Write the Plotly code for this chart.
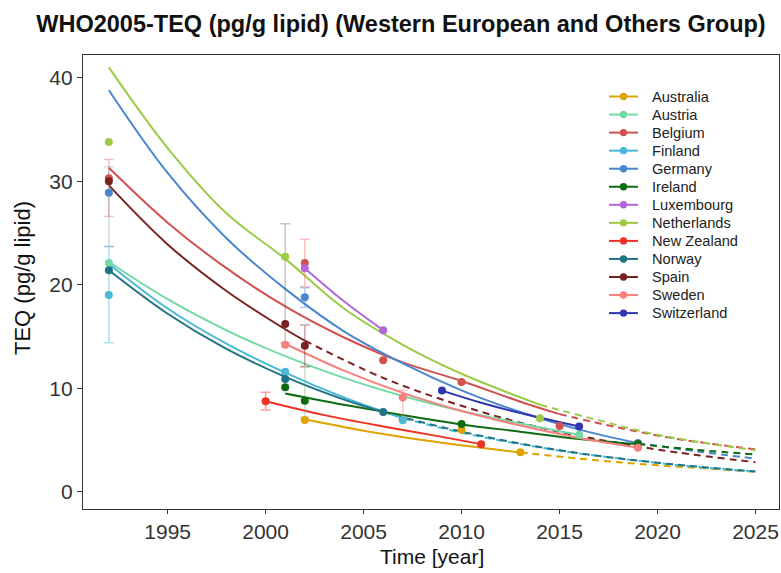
import plotly.graph_objects as go

COUNTRIES = ["Australia", "Austria", "Belgium", "Finland", "Germany", "Ireland",
             "Luxembourg", "Netherlands", "New Zealand", "Norway", "Spain",
             "Sweden", "Switzerland"]
COLORS = ["#E0A200", "#72D9A6", "#D0514F", "#4CB8D6", "#4A86CF", "#0E6B12",
          "#B266D9", "#9BCB48", "#EE3324", "#1F7385", "#7A2222", "#F5807C",
          "#2F36AE"]

X_TICKS = [1995, 2000, 2005, 2010, 2015, 2020, 2025]
Y_TICKS = [0, 10, 20, 30, 40]

# ---- measured points (year, TEQ) ----
AUS_PT_X = [2002, 2010, 2013]
AUS_PT_Y = [6.93, 6.0, 3.81]
AUT_PT_X = [1992, 2016]
AUT_PT_Y = [22.1, 5.5]
BEL_PT_X = [1992, 2002, 2006, 2010, 2015]
BEL_PT_Y = [30.3, 22.1, 12.7, 10.6, 6.35]
FIN_PT_X = [1992, 2001, 2007]
FIN_PT_Y = [19.0, 11.6, 6.9]
DEU_PT_X = [1992, 2002, 2019]
DEU_PT_Y = [28.9, 18.8, 4.7]
IRL_PT_X = [2001, 2002, 2010, 2019]
IRL_PT_Y = [10.1, 8.8, 6.55, 4.6]
LUX_PT_X = [2002, 2006]
LUX_PT_Y = [21.6, 15.6]
NLD_PT_X = [1992, 2001, 2014]
NLD_PT_Y = [33.8, 22.7, 7.1]
NZL_PT_X = [2000, 2011]
NZL_PT_Y = [8.74, 4.58]
NOR_PT_X = [1992, 2001, 2006]
NOR_PT_Y = [21.4, 10.9, 7.7]
ESP_PT_X = [1992, 2001, 2002]
ESP_PT_Y = [30.0, 16.2, 14.1]
SWE_PT_X = [2001, 2007, 2019]
SWE_PT_Y = [14.2, 9.1, 4.26]
CHE_PT_X = [2009, 2016]
CHE_PT_Y = [9.77, 6.3]

# ---- fitted trend (solid part) ----
AUS_FIT_X = [2002, 2005, 2008, 2011, 2013]
AUS_FIT_Y = [7.0, 5.9, 5.0, 4.25, 3.8]
AUT_FIT_X = [1992, 1995, 1998, 2001, 2004, 2007, 2010, 2013, 2016]
AUT_FIT_Y = [22.2, 18.6, 15.6, 13.1, 11.0, 9.25, 7.8, 6.6, 5.5]
BEL_FIT_X = [1992, 1995, 1998, 2001, 2004, 2007, 2010, 2013, 2015]
BEL_FIT_Y = [31.3, 26.0, 21.6, 17.9, 14.9, 12.5, 10.7, 8.7, 7.5]
FIN_FIT_X = [1992, 1995, 1998, 2001, 2004, 2007]
FIN_FIT_Y = [22.0, 17.7, 14.3, 11.5, 9.1, 7.1]
DEU_FIT_X = [1992, 1995, 1998, 2001, 2004, 2007, 2010, 2013, 2016, 2019]
DEU_FIT_Y = [38.8, 30.8, 24.5, 19.6, 15.5, 12.4, 9.8, 7.7, 6.0, 4.7]
IRL_FIT_X = [2001, 2004, 2007, 2010, 2013, 2016, 2019]
IRL_FIT_Y = [9.5, 8.4, 7.4, 6.5, 5.8, 5.1, 4.6]
LUX_FIT_X = [2002, 2004, 2006]
LUX_FIT_Y = [21.6, 18.4, 15.6]
NLD_FIT_X = [1992, 1995, 1998, 2001, 2004, 2007, 2010, 2014]
NLD_FIT_Y = [41.0, 33.2, 26.9, 22.5, 17.7, 14.2, 11.4, 8.4]
NZL_FIT_X = [2000, 2003, 2006, 2009, 2011]
NZL_FIT_Y = [8.74, 7.4, 6.3, 5.3, 4.6]
NOR_FIT_X = [1992, 1995, 1998, 2001, 2004, 2006]
NOR_FIT_Y = [21.4, 17.2, 13.8, 11.1, 8.9, 7.7]
ESP_FIT_X = [1992, 1995, 1998, 2001, 2002]
ESP_FIT_Y = [29.6, 23.9, 19.4, 15.7, 14.6]
SWE_FIT_X = [2001, 2004, 2007, 2010, 2013, 2016, 2019]
SWE_FIT_Y = [14.3, 11.7, 9.55, 7.8, 6.4, 5.2, 4.26]
CHE_FIT_X = [2009, 2011, 2013, 2016]
CHE_FIT_Y = [9.77, 8.6, 7.6, 6.3]

# ---- projected trend to 2025 (dashed part) ----
AUS_PRED_X = [2013, 2016, 2019, 2022, 2025]
AUS_PRED_Y = [3.8, 3.2, 2.7, 2.3, 1.93]
BEL_PRED_X = [2015, 2018, 2021, 2025]
BEL_PRED_Y = [7.5, 6.2, 5.1, 4.1]
FIN_PRED_X = [2007, 2010, 2013, 2016, 2019, 2022, 2025]
FIN_PRED_Y = [7.1, 5.7, 4.6, 3.7, 3.0, 2.4, 1.95]
DEU_PRED_X = [2019, 2022, 2025]
DEU_PRED_Y = [4.7, 3.9, 3.2]
IRL_PRED_X = [2019, 2022, 2025]
IRL_PRED_Y = [4.6, 4.05, 3.6]
NLD_PRED_X = [2014, 2017, 2020, 2025]
NLD_PRED_Y = [8.4, 6.9, 5.5, 4.0]
NOR_PRED_X = [2006, 2010, 2015, 2020, 2025]
NOR_PRED_Y = [7.7, 5.8, 4.0, 2.8, 1.95]
ESP_PRED_X = [2002, 2006, 2010, 2014, 2018, 2021, 2025]
ESP_PRED_Y = [14.6, 11.0, 8.3, 6.2, 4.7, 3.8, 2.85]

# ---- error bars (year, centre, upper, lower) ----
ERR_X = [1992, 1992, 1992, 2001, 2002, 2002, 2002, 2002, 2000, 2007]
ERR_C = [19.0, 30.0, 28.9, 16.2, 22.1, 18.8, 14.1, 8.8, 8.74, 9.1]
ERR_HI = [23.7, 32.1, 31.4, 25.9, 24.4, 19.7, 16.1, 12.0, 9.6, 9.8]
ERR_LO = [14.4, 26.6, 23.7, 14.4, 19.8, 17.8, 12.1, 7.2, 7.9, 7.0]
ERR_COL = ["rgba(76,184,214,0.45)", "rgba(208,81,79,0.35)",
           "rgba(120,150,160,0.35)", "rgba(123,80,60,0.35)",
           "rgba(245,128,124,0.5)", "rgba(74,134,207,0.4)",
           "rgba(122,34,34,0.4)", "rgba(80,160,80,0.3)",
           "rgba(238,51,36,0.45)", "rgba(245,128,124,0.45)"]

POINTS = [(AUS_PT_X, AUS_PT_Y), (AUT_PT_X, AUT_PT_Y), (BEL_PT_X, BEL_PT_Y),
          (FIN_PT_X, FIN_PT_Y), (DEU_PT_X, DEU_PT_Y), (IRL_PT_X, IRL_PT_Y),
          (LUX_PT_X, LUX_PT_Y), (NLD_PT_X, NLD_PT_Y), (NZL_PT_X, NZL_PT_Y),
          (NOR_PT_X, NOR_PT_Y), (ESP_PT_X, ESP_PT_Y), (SWE_PT_X, SWE_PT_Y),
          (CHE_PT_X, CHE_PT_Y)]
FITS = [(AUS_FIT_X, AUS_FIT_Y), (AUT_FIT_X, AUT_FIT_Y), (BEL_FIT_X, BEL_FIT_Y),
        (FIN_FIT_X, FIN_FIT_Y), (DEU_FIT_X, DEU_FIT_Y), (IRL_FIT_X, IRL_FIT_Y),
        (LUX_FIT_X, LUX_FIT_Y), (NLD_FIT_X, NLD_FIT_Y), (NZL_FIT_X, NZL_FIT_Y),
        (NOR_FIT_X, NOR_FIT_Y), (ESP_FIT_X, ESP_FIT_Y), (SWE_FIT_X, SWE_FIT_Y),
        (CHE_FIT_X, CHE_FIT_Y)]
PREDS = {"Australia": (AUS_PRED_X, AUS_PRED_Y), "Belgium": (BEL_PRED_X, BEL_PRED_Y),
         "Finland": (FIN_PRED_X, FIN_PRED_Y), "Germany": (DEU_PRED_X, DEU_PRED_Y),
         "Ireland": (IRL_PRED_X, IRL_PRED_Y), "Netherlands": (NLD_PRED_X, NLD_PRED_Y),
         "Norway": (NOR_PRED_X, NOR_PRED_Y), "Spain": (ESP_PRED_X, ESP_PRED_Y)}

FONT = "Liberation Sans, Arial, sans-serif"
W, H = 781, 573
ML, MR, MT, MB = 83, 2, 55, 64
PW, PH = W - ML - MR, H - MT - MB


def paper_x(px):
    return (px - ML) / PW


def paper_y(py):
    return (H - MB - py) / PH


fig = go.Figure()

# dashed projections
for name, col in zip(COUNTRIES, COLORS):
    if name in PREDS:
        px_, py_ = PREDS[name]
        fig.add_trace(go.Scatter(x=px_, y=py_, mode="lines", line_shape="spline",
                                 line=dict(color=col, width=2, dash="7px,5px"),
                                 showlegend=False, hoverinfo="skip"))
# solid fits
for name, col, (fx, fy) in zip(COUNTRIES, COLORS, FITS):
    fig.add_trace(go.Scatter(x=fx, y=fy, mode="lines", line_shape="spline",
                             line=dict(color=col, width=2),
                             showlegend=False, hoverinfo="skip"))
# error bars
for ex, ec, eh, el, ecol in zip(ERR_X, ERR_C, ERR_HI, ERR_LO, ERR_COL):
    fig.add_trace(go.Scatter(x=[ex], y=[ec], mode="markers",
                             marker=dict(size=1, opacity=0),
                             error_y=dict(type="data", symmetric=False,
                                          array=[eh - ec], arrayminus=[ec - el],
                                          color=ecol, thickness=1.5, width=5),
                             showlegend=False, hoverinfo="skip"))
# measured points
for name, col, (mx, my) in zip(COUNTRIES, COLORS, POINTS):
    fig.add_trace(go.Scatter(x=mx, y=my, mode="markers",
                             marker=dict(color=col, size=8),
                             showlegend=False, name=name))

# legend (drawn in layout so its row spacing matches the reference)
shapes = []
annotations = []
LEG_TOP, LEG_STEP = 96.5, 18.05
for i, (name, col) in enumerate(zip(COUNTRIES, COLORS)):
    yy = paper_y(LEG_TOP + i * LEG_STEP)
    shapes.append(dict(type="line", xref="paper", yref="paper",
                       x0=paper_x(609), x1=paper_x(638), y0=yy, y1=yy,
                       line=dict(color=col, width=2)))
    r = 3.7
    shapes.append(dict(type="circle", xref="paper", yref="paper",
                       x0=paper_x(623.5 - r), x1=paper_x(623.5 + r),
                       y0=yy - r / PH, y1=yy + r / PH,
                       fillcolor=col, line=dict(color=col, width=0)))
    annotations.append(dict(text=name, xref="paper", yref="paper",
                            x=paper_x(650), y=yy, xanchor="left", yanchor="middle",
                            showarrow=False, font=dict(size=14.6, color="#222")))

annotations.append(dict(text="Time [year]", xref="paper", yref="paper",
                        x=paper_x(432), y=paper_y(556), xanchor="center",
                        yanchor="middle", showarrow=False,
                        font=dict(size=21, color="#111")))
annotations.append(dict(text="TEQ (pg/g lipid)", xref="paper", yref="paper",
                        x=paper_x(22), y=paper_y(278), xanchor="center",
                        yanchor="middle", showarrow=False, textangle=-90,
                        font=dict(size=22, color="#111")))

fig.update_layout(
    width=W, height=H,
    margin=dict(l=ML, r=MR, t=MT, b=MB),
    paper_bgcolor="white", plot_bgcolor="white",
    font=dict(family=FONT, color="#222"),
    title=dict(text="<b>WHO2005-TEQ (pg/g lipid) (Western European and Others Group)</b>",
               x=401 / W, xref="container", xanchor="center",
               y=1 - 24 / H, yref="container", yanchor="middle",
               font=dict(size=23.5, color="#111", family=FONT)),
    showlegend=False,
    shapes=shapes,
    annotations=annotations,
)
fig.update_xaxes(range=[1990.68, 2026.2], tickvals=X_TICKS,
                 ticktext=[str(v) for v in X_TICKS], automargin=False,
                 showgrid=False, zeroline=False, showline=True, mirror=True,
                 linecolor="#333", linewidth=1.3, ticks="outside", ticklen=4,
                 tickcolor="#333", tickfont=dict(size=21, color="#333"))
fig.update_yaxes(range=[-1.67, 42.2], tickvals=Y_TICKS, automargin=False,
                 showgrid=False, zeroline=False, showline=True, mirror=True,
                 linecolor="#333", linewidth=1.3, ticks="outside", ticklen=5,
                 tickcolor="#333", tickfont=dict(size=21, color="#333"))

fig.write_html("out.html",
               config={"displayModeBar": False},
               post_script="document.body.style.margin='0';"
                           "document.body.style.padding='0';"
                           "document.body.style.overflow='hidden';")
